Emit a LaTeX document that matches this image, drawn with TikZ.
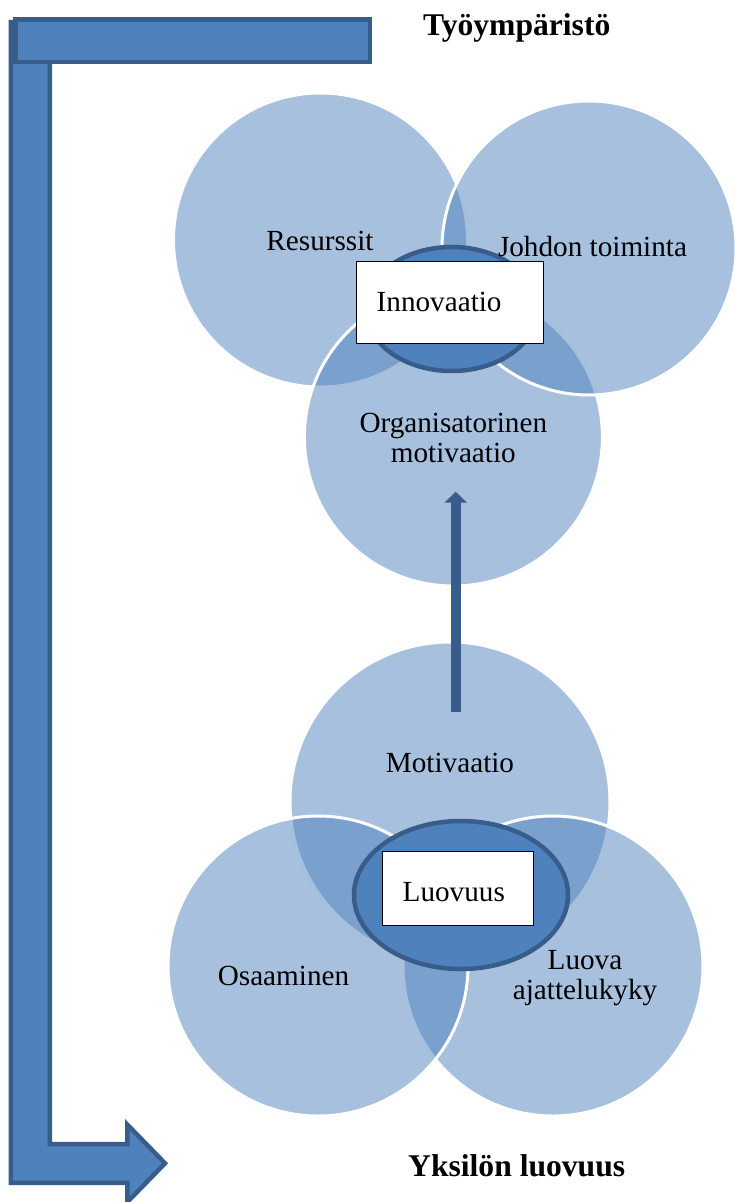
\documentclass[tikz,border=0pt]{standalone}
\usepackage{fontspec}
\setmainfont{Liberation Serif}
\usetikzlibrary{arrows.meta,shapes.geometric}
\definecolor{accent}{HTML}{4F81BD}
\definecolor{accentdark}{HTML}{385D8A}

\begin{document}
\begin{tikzpicture}[x=1pt,y=-1pt,
  venn/.style={circle,inner sep=0pt,fill=accent,fill opacity=0.5,draw=white,draw opacity=1,line width=3pt},
  core/.style={ellipse,inner sep=0pt,fill=accent,draw=accentdark,line width=4.5pt},
  tag/.style={rectangle,draw=black,fill=white,line width=0.8pt,inner xsep=20pt,inner ysep=0pt,align=left,font=\fontsize{29.2}{29.3}\selectfont},
  lbl/.style={inner sep=0pt,font=\fontsize{29.2}{29.3}\selectfont},
  title/.style={inner sep=0pt,anchor=base,font=\fontsize{31.6}{33}\selectfont\bfseries},
  bent/.style={fill=accent,draw=accentdark,line width=4.5pt,line join=miter},
  rise/.style={draw=accentdark,line width=10pt,-{Triangle[width=22pt,length=11pt]}}]
  \useasboundingbox (0,0) rectangle (734,1202);

  % bent arrow at the left
  \draw[bent] (10.75,22) -- (10.75,1182.75) -- (127.25,1182.75) -- (127.25,1202.1)
    -- (165,1163.3) -- (127.25,1124.5) -- (127.25,1144) -- (49.75,1144) -- (49.75,22) -- cycle;
  \draw[bent] (15.25,19.25) rectangle (369.75,61.75);

  % work environment
  \node[venn,minimum size=294pt] (res) at (320.5,240) {};
  \node[venn,minimum size=298pt] (org) at (453.4,437) {};
  \node[venn,minimum size=294pt] (joh) at (589,248) {};
  \node[core,minimum width=172pt,minimum height=124pt] (inn) at (451.7,309) {};
  \node[tag,text width=146.6pt,minimum height=82.3pt] (innbox) at (450,302.2) {Innovaatio};
  \node[lbl,anchor=base] (reslbl) at (320,250) {Resurssit};
  \node[lbl,anchor=base] (johlbl) at (592.5,256.7) {Johdon toiminta};
  \node[lbl,align=center] (orglbl) at (453.3,438.1) {Organisatorinen\\motivaatio};

  % individual creativity
  \node[venn,minimum size=320pt] (mot) at (450,802) {};
  \node[venn,minimum size=300pt] (luo) at (553,966) {};
  \node[venn,minimum size=300pt] (osa) at (318,966) {};
  \node[core,minimum width=214pt,minimum height=148pt] (luov) at (461,895) {};
  \node[tag,text width=110.6pt,text height=26pt,minimum height=74pt] (luovbox) at (458,888.7) {Luovuus};
  \node[lbl,anchor=base] (motlbl) at (450,772.7) {Motivaatio};
  \node[lbl,anchor=base] (osalbl) at (283.5,985.7) {Osaaminen};
  \node[lbl,align=center] (luolbl) at (585,978) {Luova\\ajattelukyky};

  % arrow up
  \coordinate (upS) at (455.7,711.7);
  \coordinate (upE) at (455.7,491.7);
  \draw[rise] (upS) -- (upE);

  \node[title] (work) at (516.7,35) {Työympäristö};
  \node[title] (indiv) at (516.7,1176.7) {Yksilön luovuus};
\end{tikzpicture}
\end{document}
